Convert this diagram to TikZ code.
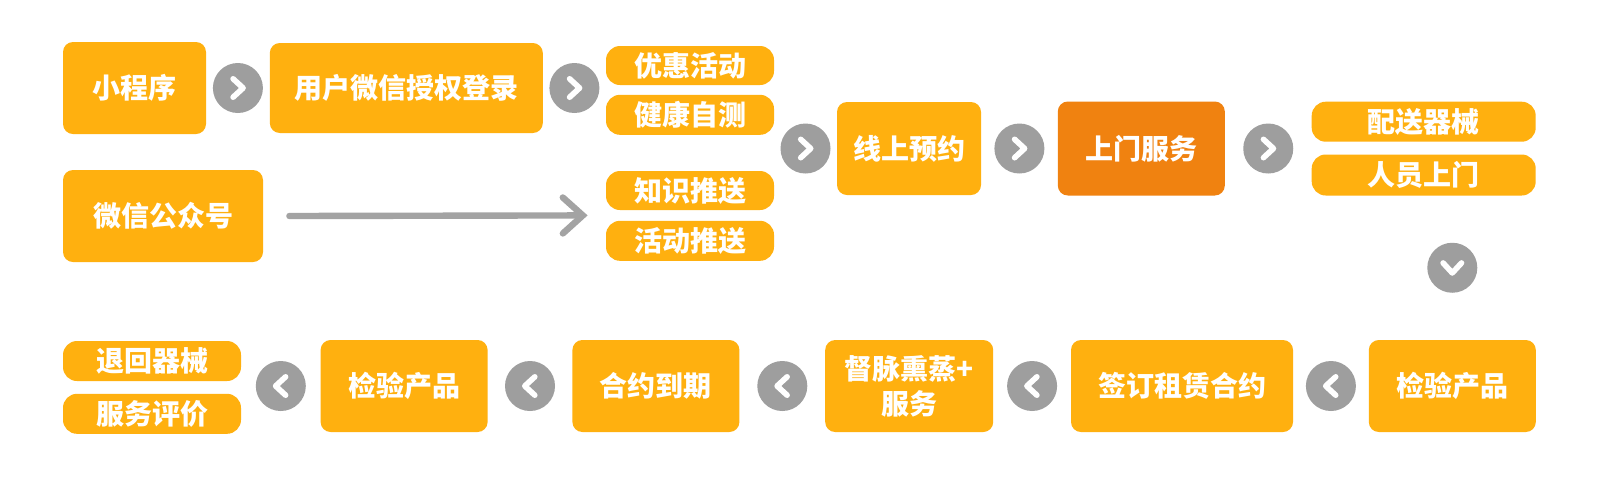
\documentclass[tikz,border=0pt]{standalone}
\usepackage{fontspec}
\newfontfamily\cjk{Noto Sans CJK SC}
\usepackage{tikz}
\usetikzlibrary{positioning, arrows.meta, calc}
\definecolor{boxorange}{HTML}{FFB00F}
\definecolor{deeporange}{HTML}{F08210}
\definecolor{btngray}{HTML}{9E9E9E}
\definecolor{linegray}{HTML}{A3A3A3}
\tikzset{
    >=Stealth,
    box/.style={fill=boxorange, text=white, font=\cjk\bfseries\fontsize{14}{17.5}\selectfont,
        rounded corners=5pt, inner sep=0pt, align=center},
    pill/.style={box, rounded corners=7pt},
    btn/.style={circle, fill=btngray, minimum size=25pt, inner sep=0pt},
    chev/.style={draw=white, line width=2.8pt, line cap=round, line join=round}
}

\begin{document}
\begin{tikzpicture}[
    x=0.5pt, y=-0.5pt,
    feed/.style={draw=linegray, line width=3.2pt, line cap=round,
        -{Straight Barb[length=10pt, width=18pt, line cap=round]}}
]
\fill[white] (0,0) rectangle (1600,489);
\useasboundingbox (0,0) rectangle (1600,489);

% Top row
\node[box, minimum width=71.5pt, minimum height=46pt] (mini) at (134.5,88) {小程序};
\node[box, minimum width=136.5pt, minimum height=45pt, right=31.5pt of mini] (login) {用户微信授权登录};
\node[box, minimum width=100pt, minimum height=46pt] (wechat) at (163,216) {微信公众号};
\node[pill, minimum width=84pt, minimum height=19.5pt] (promo) at (690,65.5) {优惠活动};
\node[pill, minimum width=84pt, minimum height=20pt, below=4.5pt of promo] (health) {健康自测};
\node[pill, minimum width=84pt, minimum height=19.5pt] (knowledge) at (690,190.5) {知识推送};
\node[pill, minimum width=84pt, minimum height=20pt, below=5pt of knowledge] (actpush) {活动推送};
\node[box, minimum width=72pt, minimum height=46.5pt] (online) at (909,148.5) {线上预约};
\node[box, fill=deeporange, minimum width=83.5pt, minimum height=47pt, right=38pt of online] (visit) {上门服务};
\node[pill, minimum width=112pt, minimum height=20pt] (deliver) at (1423.7,121.7) {配送器械};
\node[pill, minimum width=112pt, minimum height=20.5pt, below=6pt of deliver] (staff) {人员上门};

% Bottom row
\node[box, minimum width=83.5pt, minimum height=46pt] (inspA) at (1452.3,386) {检验产品};
\node[box, minimum width=111pt, minimum height=46pt, left=37.5pt of inspA] (sign) {签订租赁合约};
\node[box, minimum width=84pt, minimum height=46pt, left=38.5pt of sign] (moxa) {督脉熏蒸+\\服务};
\node[box, minimum width=83.5pt, minimum height=46pt, left=42.5pt of moxa] (expire) {合约到期};
\node[box, minimum width=83.5pt, minimum height=46pt, left=42pt of expire] (inspB) {检验产品};
\node[pill, minimum width=89pt, minimum height=20pt] (return) at (152,361) {退回器械};
\node[pill, minimum width=89pt, minimum height=20pt, below=6pt of return] (review) {服务评价};

% Step buttons
\node[btn] (b1) at ($(mini.east)!0.5!(login.west)$) {};
\node[btn] (b2) at ($(login.east)!0.5!(login.east -| promo.west)$) {};
\node[btn] (b3) at ($(online.west -| health.east)!0.5!(online.west)$) {};
\node[btn] (b4) at ($(online.east)!0.5!(visit.west)$) {};
\node[btn] (b5) at ($(visit.east)!0.5!(visit.east -| deliver.west)$) {};
\node[btn] (b6) at ($(inspA.north |- staff.south)!0.5!(inspA.north)$) {};
\node[btn] (b7) at ($(sign.east)!0.5!(inspA.west)$) {};
\node[btn] (b8) at ($(moxa.east)!0.5!(sign.west)$) {};
\node[btn] (b9) at ($(expire.east)!0.5!(moxa.west)$) {};
\node[btn] (b10) at ($(inspB.east)!0.5!(expire.west)$) {};
\node[btn] (b11) at ($(return.east |- inspB.west)!0.5!(inspB.west)$) {};

% Chevrons
\foreach \b/\a in {b1/0, b2/0, b3/0, b4/0, b5/0, b6/-90, b7/180, b8/180, b9/180, b10/180, b11/180}
    \draw[chev, shift={(\b.center)}, rotate=\a] (-2.4pt,4.6pt) -- (2.6pt,0pt) -- (-2.4pt,-4.6pt);

% Push arrow
\coordinate (pushend) at ($(knowledge.south west)!0.5!(actpush.north west)$);
\draw[feed] ([xshift=13pt]wechat.east) -- ([xshift=-9pt]pushend);

\end{tikzpicture}
\end{document}
